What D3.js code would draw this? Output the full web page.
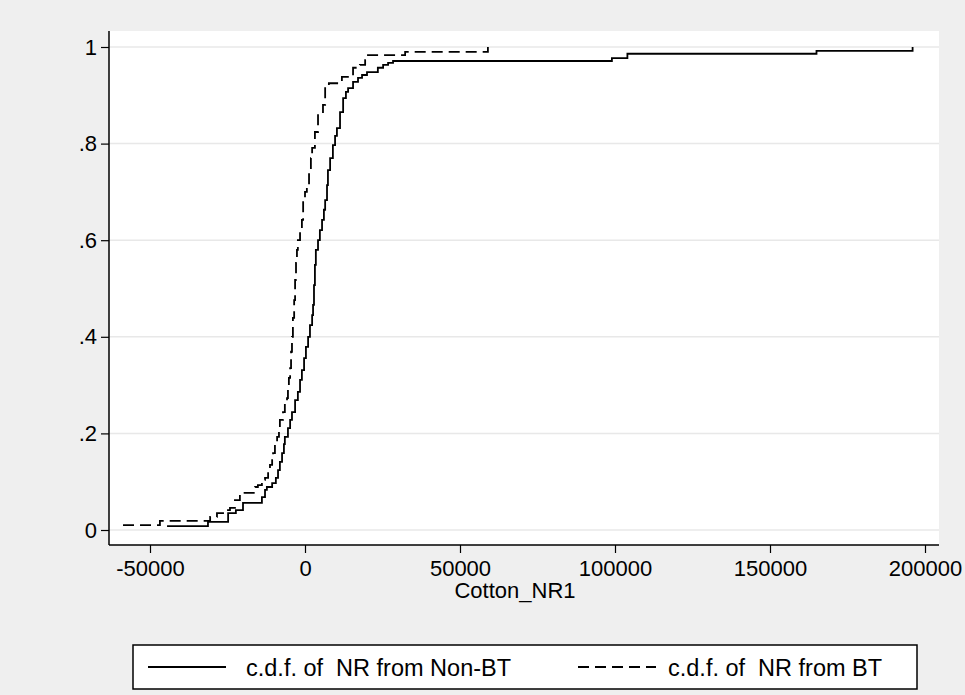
<!DOCTYPE html>
<html>
<head>
<meta charset="utf-8">
<script src="https://cdn.jsdelivr.net/npm/d3@7"></script>
<style>
  body { margin: 0; background: #efefef; }
  text { font-family: "Liberation Sans", Arial, sans-serif; fill: #000; }
</style>
</head>
<body>
<div id="chart"></div>
<script>
var nonbtX = [-44500, -31300, -24800, -22300, -20000, -13900, -12900, -12300, -10600, -9400,
  -8700, -8100, -7400, -6800, -6500, -5500, -4800, -4200, -3200, -2300,
  -1600, -1000, -300, 300, 1000, 1600, 2300, 2600, 2900, 3200,
  3500, 4200, 4800, 5500, 6100, 6500, 7100, 7400, 8100, 9000,
  9700, 10300, 11300, 12300, 13200, 13900, 15500, 17100, 18400, 20000,
  23500, 25200, 26800, 28400, 99000, 104000, 165000, 196000];
var nonbtF = [0.008, 0.017, 0.035, 0.041, 0.056, 0.068, 0.083, 0.089, 0.097, 0.108,
  0.124, 0.141, 0.159, 0.178, 0.193, 0.211, 0.228, 0.244, 0.269, 0.286,
  0.311, 0.331, 0.356, 0.379, 0.400, 0.424, 0.445, 0.466, 0.507, 0.549,
  0.580, 0.600, 0.621, 0.642, 0.663, 0.683, 0.714, 0.745, 0.770, 0.797,
  0.816, 0.832, 0.865, 0.894, 0.907, 0.915, 0.928, 0.936, 0.942, 0.948,
  0.957, 0.963, 0.967, 0.971, 0.977, 0.986, 0.992, 1.0];

var btX = [-58700, -46800, -30600, -28400, -25800, -24200, -22600, -21000, -16100, -15200,
  -13900, -12900, -11900, -11300, -10600, -10300, -9700, -9000, -8400, -8100,
  -7100, -6500, -5800, -5500, -5200, -4800, -4500, -4200, -3900, -3500,
  -3200, -2900, -2600, -2300, -1600, -1000, -600, 0, 600, 1300,
  1900, 2300, 3200, 4200, 5800, 6500, 7700, 11900, 15500, 17700,
  19400, 20000, 32300, 59000];
var btF = [0.010, 0.019, 0.027, 0.035, 0.041, 0.046, 0.062, 0.077, 0.089, 0.093,
  0.104, 0.108, 0.120, 0.135, 0.149, 0.159, 0.176, 0.193, 0.211, 0.228,
  0.244, 0.259, 0.273, 0.296, 0.315, 0.335, 0.369, 0.400, 0.439, 0.476,
  0.518, 0.553, 0.580, 0.600, 0.621, 0.642, 0.683, 0.700, 0.714, 0.745,
  0.770, 0.791, 0.824, 0.865, 0.880, 0.921, 0.925, 0.938, 0.957, 0.963,
  0.973, 0.983, 0.990, 1.0];

var xTicks = [-50000, 0, 50000, 100000, 150000, 200000];
var yTicks = [0, 0.2, 0.4, 0.6, 0.8, 1];
var yTickLabels = ["0", ".2", ".4", ".6", ".8", "1"];
var xTitle = "Cotton_NR1";
var legendLabels = ["c.d.f. of  NR from Non-BT", "c.d.f. of  NR from BT"];

var width = 965, height = 695;
var plot = {left: 109, right: 939, top: 31, bottom: 545};

var svg = d3.select("#chart").append("svg")
    .attr("width", width)
    .attr("height", height);

svg.append("rect")
    .attr("width", width).attr("height", height)
    .attr("fill", "#efefef");

svg.append("rect")
    .attr("x", plot.left).attr("y", plot.top)
    .attr("width", plot.right - plot.left)
    .attr("height", plot.bottom - plot.top)
    .attr("fill", "#fff");

var x = d3.scaleLinear().domain([-50000, 200000]).range([150, 925]);
var y = d3.scaleLinear().domain([0, 1]).range([530, 47]);

// grid lines
svg.append("g")
    .selectAll("line")
    .data(yTicks)
    .enter()
    .append("line")
    .attr("x1", plot.left).attr("x2", plot.right)
    .attr("y1", function(d){ return y(d); })
    .attr("y2", function(d){ return y(d); })
    .attr("stroke", "#e8e8e8")
    .attr("stroke-width", 1.5);

// axes
var xAxis = svg.append("g")
    .attr("transform", "translate(0," + plot.bottom + ")")
    .call(d3.axisBottom(x).tickValues(xTicks)
        .tickFormat(function(d){ return String(d); })
        .tickSize(8).tickPadding(7).tickSizeOuter(0));
xAxis.select(".domain").attr("d", "M" + plot.left + ",0H" + plot.right).attr("stroke-width", 1.5);

var yAxis = svg.append("g")
    .attr("transform", "translate(" + plot.left + ",0)")
    .call(d3.axisLeft(y).tickValues(yTicks)
        .tickFormat(function(d, i){ return yTickLabels[i]; })
        .tickSize(8).tickPadding(4).tickSizeOuter(0));
yAxis.select(".domain").attr("d", "M0," + plot.top + "V" + plot.bottom).attr("stroke-width", 1.5);

svg.selectAll(".tick line").attr("stroke", "#000").attr("stroke-width", 1.2);
svg.selectAll(".tick text")
    .style("font-family", '"Liberation Sans", Arial, sans-serif')
    .style("font-size", "22px")
    .attr("fill", "#000");

svg.append("text")
    .attr("x", 515)
    .attr("y", 598)
    .attr("text-anchor", "middle")
    .style("font-size", "22px")
    .text(xTitle);

// the two c.d.f. curves
var line = d3.line()
    .x(function(d){ return x(d[0]); })
    .y(function(d){ return y(d[1]); })
    .curve(d3.curveStepAfter);

svg.append("path")
    .datum(d3.zip(nonbtX, nonbtF))
    .attr("d", line)
    .attr("fill", "none")
    .attr("stroke", "#000")
    .attr("stroke-width", 1.8);

svg.append("path")
    .datum(d3.zip(btX, btF))
    .attr("d", line)
    .attr("fill", "none")
    .attr("stroke", "#000")
    .attr("stroke-width", 1.8)
    .attr("stroke-dasharray", "11,6");

// legend
var lg = svg.append("g");
lg.append("rect")
    .attr("x", 133).attr("y", 645)
    .attr("width", 784).attr("height", 44)
    .attr("fill", "#fff")
    .attr("stroke", "#000")
    .attr("stroke-width", 1.5);

var legendX = [148, 578];
var legendTextX = [246, 668];
lg.selectAll(".key")
    .data(legendLabels)
    .enter()
    .append("line")
    .attr("x1", function(d, i){ return legendX[i]; })
    .attr("x2", function(d, i){ return legendX[i] + 78; })
    .attr("y1", 667).attr("y2", 667)
    .attr("stroke", "#000")
    .attr("stroke-width", 1.8)
    .attr("stroke-dasharray", function(d, i){ return i == 1 ? "11,6" : null; });

lg.selectAll(".lab")
    .data(legendLabels)
    .enter()
    .append("text")
    .attr("x", function(d, i){ return legendTextX[i]; })
    .attr("y", 676)
    .style("font-size", "23.5px")
    .style("white-space", "pre")
    .text(function(d){ return d; });
</script>
</body>
</html>
